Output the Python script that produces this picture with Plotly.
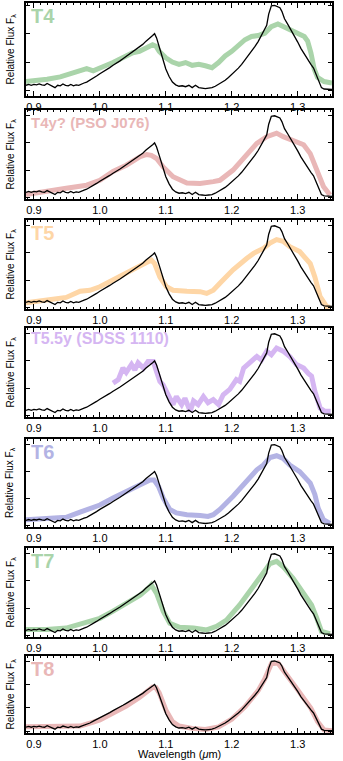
import plotly.graph_objects as go

# ---- comparison object (black), same spectrum in every panel ----
BLACK_WAVE = [0.888, 0.892, 0.896, 0.900, 0.904, 0.908, 0.912, 0.916, 0.920, 0.924,
              0.928, 0.932, 0.936, 0.940, 0.944, 0.948, 0.952, 0.956, 0.960, 0.964,
              0.968, 0.972, 0.976, 0.980, 0.985, 0.990, 0.995, 1.000, 1.005, 1.010,
              1.015, 1.020, 1.025, 1.030, 1.035, 1.040, 1.045, 1.050, 1.055, 1.060,
              1.065, 1.070, 1.075, 1.080, 1.083, 1.086, 1.090, 1.095, 1.100, 1.105,
              1.110, 1.115, 1.120, 1.125, 1.130, 1.135, 1.140, 1.145, 1.150, 1.155,
              1.160, 1.165, 1.170, 1.175, 1.180, 1.185, 1.190, 1.195, 1.200, 1.205,
              1.210, 1.215, 1.220, 1.225, 1.230, 1.235, 1.240, 1.245, 1.250, 1.253,
              1.256, 1.260, 1.265, 1.270, 1.273, 1.276, 1.280, 1.285, 1.290, 1.295,
              1.300, 1.305, 1.310, 1.315, 1.320, 1.324, 1.328, 1.332, 1.336, 1.340,
              1.345, 1.352]
BLACK_FLUX = [0.075, 0.085, 0.075, 0.085, 0.080, 0.090, 0.080, 0.075, 0.095, 0.080,
              0.065, 0.050, 0.075, 0.070, 0.090, 0.075, 0.070, 0.085, 0.070, 0.080,
              0.075, 0.090, 0.100, 0.110, 0.130, 0.155, 0.175, 0.200, 0.220, 0.245,
              0.265, 0.290, 0.310, 0.335, 0.360, 0.385, 0.410, 0.435, 0.460, 0.490,
              0.515, 0.550, 0.575, 0.610, 0.630, 0.585, 0.490, 0.370, 0.250, 0.170,
              0.110, 0.080, 0.065, 0.070, 0.060, 0.075, 0.050, 0.075, 0.050, 0.045,
              0.040, 0.045, 0.050, 0.065, 0.085, 0.105, 0.130, 0.160, 0.190, 0.225,
              0.260, 0.300, 0.345, 0.390, 0.440, 0.490, 0.545, 0.610, 0.680, 0.720,
              0.840, 0.930, 0.935, 0.920, 0.910, 0.870, 0.790, 0.730, 0.670, 0.600,
              0.540, 0.470, 0.410, 0.355, 0.300, 0.260, 0.190, 0.110, 0.050, 0.035,
              0.030, 0.030]

# ---- spectral standards (coloured) ----
T4_WAVE = [0.888, 0.900, 0.920, 0.940, 0.950, 0.960, 0.970, 0.980, 0.990, 1.000,
           1.010, 1.020, 1.030, 1.040, 1.050, 1.060, 1.070, 1.080, 1.085, 1.090,
           1.100, 1.110, 1.120, 1.130, 1.140, 1.150, 1.160, 1.170, 1.180, 1.190,
           1.200, 1.210, 1.220, 1.230, 1.240, 1.250, 1.260, 1.270, 1.280, 1.290,
           1.300, 1.310, 1.315, 1.320, 1.325, 1.330, 1.340, 1.352]
T4_FLUX = [0.115, 0.120, 0.140, 0.165, 0.185, 0.210, 0.230, 0.255, 0.230, 0.265,
           0.290, 0.320, 0.355, 0.390, 0.425, 0.440, 0.480, 0.510, 0.495, 0.440,
           0.370, 0.325, 0.300, 0.320, 0.290, 0.300, 0.285, 0.265, 0.320, 0.390,
           0.440, 0.495, 0.565, 0.600, 0.610, 0.635, 0.705, 0.735, 0.700, 0.665,
           0.635, 0.600, 0.550, 0.425, 0.250, 0.160, 0.115, 0.100]

T4Y_WAVE = [0.888, 0.919, 0.949, 0.980, 1.000, 1.020, 1.040, 1.061, 1.071, 1.078,
            1.086, 1.096, 1.111, 1.132, 1.152, 1.172, 1.182, 1.202, 1.223, 1.238,
            1.253, 1.268, 1.278, 1.293, 1.309, 1.319, 1.329, 1.339, 1.349]
T4Y_FLUX = [0.050, 0.080, 0.120, 0.155, 0.210, 0.310, 0.380, 0.475, 0.500, 0.490,
            0.455, 0.360, 0.250, 0.180, 0.175, 0.195, 0.210, 0.325, 0.510, 0.625,
            0.700, 0.740, 0.700, 0.660, 0.610, 0.510, 0.325, 0.140, 0.045]

T5_WAVE = [0.888, 0.919, 0.949, 0.970, 0.985, 1.000, 1.020, 1.040, 1.061, 1.073,
           1.078, 1.083, 1.091, 1.101, 1.111, 1.132, 1.152, 1.162, 1.172, 1.182,
           1.202, 1.223, 1.233, 1.248, 1.258, 1.268, 1.278, 1.288, 1.303, 1.319,
           1.326, 1.334, 1.344, 1.349]
T5_FLUX = [0.070, 0.100, 0.130, 0.200, 0.210, 0.250, 0.325, 0.400, 0.480, 0.530,
           0.550, 0.510, 0.360, 0.250, 0.210, 0.200, 0.195, 0.175, 0.210, 0.290,
           0.440, 0.570, 0.625, 0.680, 0.740, 0.780, 0.760, 0.700, 0.645, 0.510,
           0.360, 0.140, 0.026, 0.020]

T55Y_WAVE = [1.020, 1.028, 1.035, 1.040, 1.048, 1.053, 1.058, 1.066, 1.073, 1.081,
             1.086, 1.091, 1.096, 1.101, 1.106, 1.111, 1.116, 1.124, 1.129, 1.137,
             1.142, 1.149, 1.157, 1.164, 1.172, 1.180, 1.187, 1.197, 1.207, 1.212,
             1.218, 1.228, 1.238, 1.245, 1.253, 1.260, 1.268, 1.278, 1.288, 1.298,
             1.309, 1.316, 1.321, 1.326, 1.334, 1.341, 1.350]
T55Y_FLUX = [0.380, 0.420, 0.550, 0.500, 0.590, 0.530, 0.610, 0.550, 0.625, 0.625,
             0.510, 0.400, 0.360, 0.290, 0.210, 0.140, 0.230, 0.140, 0.210, 0.064,
             0.180, 0.140, 0.230, 0.160, 0.195, 0.140, 0.250, 0.310, 0.420, 0.400,
             0.550, 0.610, 0.680, 0.640, 0.740, 0.700, 0.775, 0.740, 0.680, 0.590,
             0.550, 0.490, 0.460, 0.290, 0.100, 0.064, 0.064]

T6_WAVE = [0.888, 0.919, 0.949, 0.970, 0.990, 1.000, 1.020, 1.040, 1.061, 1.076,
           1.082, 1.089, 1.096, 1.106, 1.116, 1.132, 1.152, 1.164, 1.172, 1.182,
           1.202, 1.223, 1.238, 1.248, 1.258, 1.268, 1.278, 1.288, 1.303, 1.319,
           1.326, 1.331, 1.339, 1.349]
T6_FLUX = [0.083, 0.090, 0.110, 0.170, 0.215, 0.250, 0.330, 0.400, 0.480, 0.535,
           0.535, 0.460, 0.330, 0.200, 0.160, 0.140, 0.130, 0.120, 0.140, 0.200,
           0.350, 0.520, 0.650, 0.705, 0.790, 0.810, 0.780, 0.705, 0.630, 0.500,
           0.370, 0.215, 0.083, 0.040]

T7_WAVE = [0.888, 0.919, 0.949, 0.970, 1.000, 1.020, 1.040, 1.061, 1.073, 1.078,
           1.086, 1.096, 1.106, 1.121, 1.142, 1.162, 1.177, 1.192, 1.212, 1.228,
           1.243, 1.258, 1.268, 1.278, 1.293, 1.309, 1.321, 1.329, 1.336, 1.349]
T7_FLUX = [0.085, 0.085, 0.100, 0.145, 0.210, 0.290, 0.380, 0.470, 0.545, 0.585,
           0.490, 0.290, 0.155, 0.110, 0.100, 0.080, 0.120, 0.190, 0.360, 0.530,
           0.680, 0.825, 0.850, 0.790, 0.660, 0.490, 0.360, 0.210, 0.063, 0.037]

T8_WAVE = [0.888, 0.920, 0.950, 0.970, 0.990, 1.000, 1.020, 1.040, 1.060, 1.070,
           1.080, 1.085, 1.090, 1.095, 1.100, 1.110, 1.120, 1.140, 1.160, 1.180,
           1.200, 1.220, 1.240, 1.250, 1.260, 1.270, 1.280, 1.300, 1.320, 1.330,
           1.340, 1.352]
T8_FLUX = [0.080, 0.085, 0.080, 0.090, 0.140, 0.170, 0.260, 0.350, 0.460, 0.520,
           0.595, 0.590, 0.520, 0.410, 0.300, 0.150, 0.090, 0.060, 0.045, 0.080,
           0.180, 0.340, 0.550, 0.700, 0.900, 0.910, 0.800, 0.560, 0.320, 0.150,
           0.040, 0.030]

PANEL_LABELS = ["T4", "T4y? (PSO J076)", "T5", "T5.5y (SDSS 1110)", "T6", "T7", "T8"]
PANEL_WAVES = [T4_WAVE, T4Y_WAVE, T5_WAVE, T55Y_WAVE, T6_WAVE, T7_WAVE, T8_WAVE]
PANEL_FLUXES = [T4_FLUX, T4Y_FLUX, T5_FLUX, T55Y_FLUX, T6_FLUX, T7_FLUX, T8_FLUX]

X_TICKS = [0.9, 1.0, 1.1, 1.2, 1.3]
X_TICK_TEXT = ["0.9", "1.0", "1.1", "1.2", "1.3"]

# ---- styling / layout ----
COLORS = ["#aad4aa", "#e9b7b7", "#fed6a6", "#d5b6f2", "#b3b3e4", "#aad4aa", "#e9b7b7"]
LABEL_SIZES = [20, 15, 20, 16, 20, 20, 20]
LABEL_DROP = [1, 3, 1, 1, 1, 1, 1]
Y_RANGES = [(-0.04, 0.96), (0, 1), (0, 1), (0, 1), (0, 1), (0, 1), (0, 1)]
# frame top / bottom of each panel in pixels
FRAMES = [(3, 96), (110, 199), (220, 309), (328, 417), (439, 527), (548, 637), (656, 733)]

W, H = 343, 761
X_LEFT, X_RIGHT = 26, 332
FONT = "Liberation Sans, Arial, Helvetica, sans-serif"

fig = go.Figure()
layout = dict(
    width=W, height=H,
    margin=dict(l=0, r=0, t=0, b=0),
    paper_bgcolor="white", plot_bgcolor="white",
    showlegend=False,
    font=dict(family=FONT, color="black"),
)
annotations = []

for i in range(7):
    n = i + 1
    xa = "x" if n == 1 else f"x{n}"
    ya = "y" if n == 1 else f"y{n}"
    top, bot = FRAMES[i]
    ydom = [1 - bot / H, 1 - top / H]

    fig.add_trace(go.Scatter(
        x=PANEL_WAVES[i], y=PANEL_FLUXES[i], mode="lines",
        line=dict(color=COLORS[i], width=5), xaxis=xa, yaxis=ya,
        hoverinfo="skip"))
    fig.add_trace(go.Scatter(
        x=BLACK_WAVE, y=BLACK_FLUX, mode="lines",
        line=dict(color="black", width=1.3), xaxis=xa, yaxis=ya,
        hoverinfo="skip"))

    layout["xaxis" if n == 1 else f"xaxis{n}"] = dict(
        domain=[X_LEFT / W, X_RIGHT / W], anchor=ya,
        range=[0.888, 1.352],
        tickmode="array", tickvals=X_TICKS, ticktext=X_TICK_TEXT,
        ticks="inside", ticklen=5, tickwidth=1, tickcolor="black",
        minor=dict(dtick=0.01, ticks="inside", ticklen=2.5, tickwidth=1, tickcolor="black"),
        showline=True, linecolor="black", linewidth=1.5, mirror="allticks",
        showgrid=False, zeroline=False,
        tickfont=dict(size=11, family=FONT, color="black"),
    )
    layout["yaxis" if n == 1 else f"yaxis{n}"] = dict(
        domain=ydom, anchor=xa,
        range=list(Y_RANGES[i]),
        tick0=0.02, dtick=0.305,
        ticks="inside", ticklen=4, tickwidth=1, tickcolor="black",
        showticklabels=False,
        showline=True, linecolor="black", linewidth=1.5, mirror="allticks",
        showgrid=False, zeroline=False,
    )

    # spectral type label
    annotations.append(dict(
        text=f"<b>{PANEL_LABELS[i]}</b>", xref="paper", yref="paper",
        x=30 / W, y=1 - (top + LABEL_DROP[i]) / H, xanchor="left", yanchor="top",
        borderpad=0, showarrow=False,
        font=dict(size=LABEL_SIZES[i], color=COLORS[i], family=FONT)))
    # y-axis title
    annotations.append(dict(
        text="Relative Flux F<sub>λ</sub>", xref="paper", yref="paper",
        x=10 / W, y=1 - ((top + bot) / 2) / H, xanchor="center", yanchor="middle",
        textangle=-90, showarrow=False,
        font=dict(size=10, color="black", family=FONT)))

annotations.append(dict(
    text="Wavelength (<i>μ</i>m)", xref="paper", yref="paper",
    x=((X_LEFT + X_RIGHT) / 2) / W, y=0, xanchor="center", yanchor="bottom",
    borderpad=0, showarrow=False, font=dict(size=11, color="black", family=FONT)))

layout["annotations"] = annotations
fig.update_layout(**layout)
fig.write_html("out.html")
